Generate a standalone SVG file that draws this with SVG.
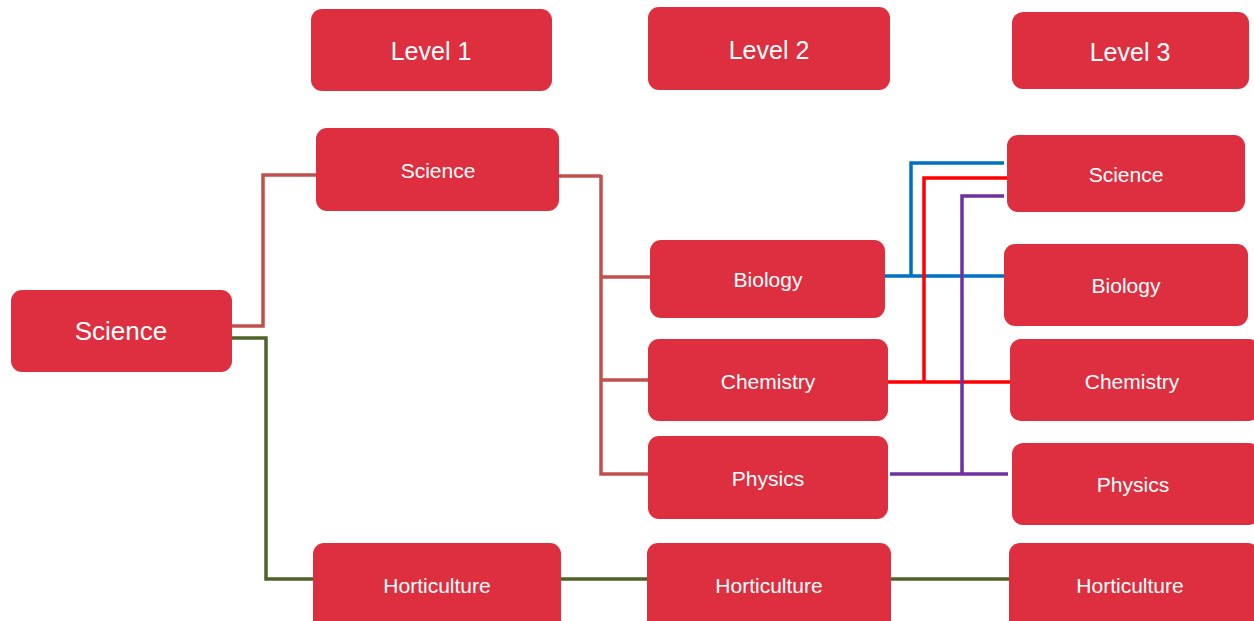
<svg xmlns="http://www.w3.org/2000/svg" width="1254" height="621" viewBox="0 0 1254 621">
<style>
.n{fill:#DE2F40;}
.t{fill:#fff;font-family:"Liberation Sans",Arial,sans-serif;font-size:21px;text-anchor:middle;dominant-baseline:central;}
.big{font-size:26px;}
.lv{font-size:25px;}
.c{fill:none;stroke-width:3.5;stroke-linejoin:miter;}
</style>
<rect width="1254" height="621" fill="#fff"/>
<g id="connectors">
<path class="c" stroke="#C0504D" d="M232,326 H263 V175 H316"/>
<path class="c" stroke="#4F6228" d="M232,338 H266 V579 H313"/>
<path class="c" stroke="#4F6228" d="M561,579 H647"/>
<path class="c" stroke="#4F6228" d="M891,579 H1009"/>
<path class="c" stroke="#C0504D" stroke-width="4.5" d="M556,176 H601"/>
<path class="c" stroke="#C0504D" d="M601,175 V474 H648 M601,277 H650 M601,380 H648"/>
<path class="c" stroke="#0070C0" d="M885,276 H1004 M911,276 V163 H1004"/>
<path class="c" stroke="#FF0000" d="M888,382 H1010 M924,382 V178 H1007"/>
<path class="c" stroke="#7030A0" d="M890,474 H1008 M962,474 V196 H1004"/>
</g>
<g id="level1"><rect class="n" x="311" y="9" width="241" height="82" rx="11"/><text class="t lv" x="431" y="51">Level 1</text></g>
<g id="level2"><rect class="n" x="648" y="7" width="242" height="83" rx="11"/><text class="t lv" x="769" y="50">Level 2</text></g>
<g id="level3"><rect class="n" x="1012" y="12" width="237" height="77" rx="11"/><text class="t lv" x="1130" y="52">Level 3</text></g>
<g id="root"><rect class="n" x="11" y="290" width="221" height="82" rx="11"/><text class="t big" x="121" y="331">Science</text></g>
<g id="l1-science"><rect class="n" x="316" y="128" width="243" height="83" rx="11"/><text class="t" x="438" y="170">Science</text></g>
<g id="l1-horticulture"><rect class="n" x="313" y="543" width="248" height="90" rx="11"/><text class="t" x="437" y="585">Horticulture</text></g>
<g id="l2-biology"><rect class="n" x="650" y="240" width="235" height="78" rx="11"/><text class="t" x="768" y="279">Biology</text></g>
<g id="l2-chemistry"><rect class="n" x="648" y="339" width="240" height="82" rx="11"/><text class="t" x="768" y="381">Chemistry</text></g>
<g id="l2-physics"><rect class="n" x="648" y="436" width="240" height="83" rx="11"/><text class="t" x="768" y="478">Physics</text></g>
<g id="l2-horticulture"><rect class="n" x="647" y="543" width="244" height="90" rx="11"/><text class="t" x="769" y="585">Horticulture</text></g>
<g id="l3-science"><rect class="n" x="1007" y="135" width="238" height="77" rx="11"/><text class="t" x="1126" y="174">Science</text></g>
<g id="l3-biology"><rect class="n" x="1004" y="244" width="244" height="82" rx="11"/><text class="t" x="1126" y="285">Biology</text></g>
<g id="l3-chemistry"><rect class="n" x="1010" y="339" width="250" height="82" rx="11"/><text class="t" x="1132" y="381">Chemistry</text></g>
<g id="l3-physics"><rect class="n" x="1012" y="443" width="248" height="82" rx="11"/><text class="t" x="1133" y="484">Physics</text></g>
<g id="l3-horticulture"><rect class="n" x="1009" y="543" width="250" height="90" rx="11"/><text class="t" x="1130" y="585">Horticulture</text></g>
</svg>
